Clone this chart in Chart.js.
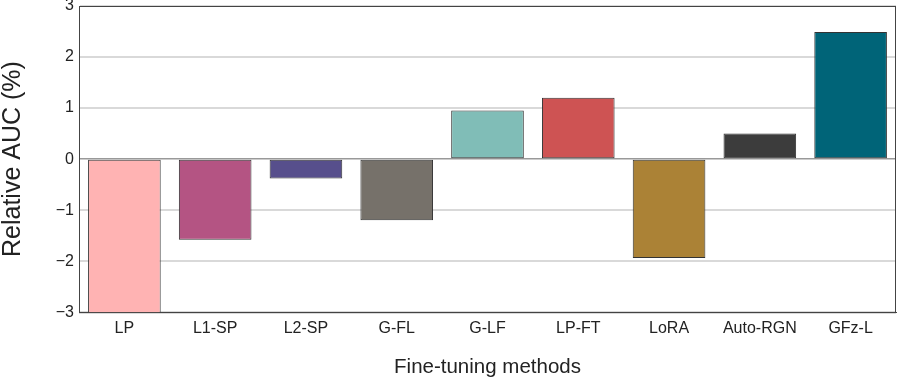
<!DOCTYPE html>
<html>
<head>
<meta charset="utf-8">
<script src="https://cdn.jsdelivr.net/npm/chart.js@4"></script>
<style>
  html, body { margin: 0; padding: 0; background: #fff; }
  #box { width: 897px; height: 377px; }
</style>
</head>
<body>
<div id="box"><canvas id="auc-chart"></canvas></div>
<script>
const methods = ['LP', 'L1-SP', 'L2-SP', 'G-FL', 'G-LF', 'LP-FT', 'LoRA', 'Auto-RGN', 'GFz-L']
const relativeAuc = [-3.3, -1.58, -0.38, -1.2, 0.95, 1.2, -1.94, 0.5, 2.49]
const barColors = ['#FFB3B3', '#B45483', '#574F8C', '#76716A', '#80BDB7', '#CE5353', '#AB8236', '#3C3C3C', '#006478']
const yTicks = [-3, -2, -1, 0, 1, 2, 3]

// frame round the plot area
const framePlugin = {
  id: 'frame',
  afterDatasetsDraw(chart) {
    const a = chart.chartArea
    const ctx = chart.ctx
    ctx.save()
    ctx.strokeStyle = '#444'
    ctx.lineWidth = 1
    ctx.strokeRect(a.left + 0.5, a.top + 0.5, a.right - a.left - 1, a.bottom - a.top)
    ctx.restore()
  }
}

const config = {
  type: 'bar',
  data: {
    labels: methods,
    datasets: [{
      data: relativeAuc,
      backgroundColor: barColors,
      borderColor: '#333',
      borderWidth: 1,
      borderSkipped: false,
      categoryPercentage: 1,
      barPercentage: 0.8,
      clip: 0
    }]
  },
  options: {
    responsive: true,
    maintainAspectRatio: false,
    animation: false,
    layout: { padding: { top: 6, right: 1, left: 0, bottom: -3 } },
    plugins: { legend: { display: false }, tooltip: { enabled: false } },
    scales: {
      x: {
        grid: { display: false },
        border: { color: '#444' },
        ticks: { color: '#222', font: { family: 'Liberation Sans', size: 16 }, padding: -1 },
        title: {
          display: true, text: 'Fine-tuning methods', color: '#222',
          font: { family: 'Liberation Sans', size: 20.5 }, padding: { top: 18, bottom: 0 }
        }
      },
      y: {
        min: -3, max: 3,
        afterBuildTicks(axis) { axis.ticks = yTicks.map(v => ({ value: v })) },
        afterFit(axis) { axis.paddingTop = 0; axis.paddingBottom = 0; axis.width = 79 },
        grid: {
          drawTicks: false,
          color: c => c.tick.value === 0 ? '#999' : '#d9d9d9',
          lineWidth: c => c.tick.value === 0 ? 1.5 : 2
        },
        border: { color: '#444' },
        ticks: {
          color: '#222', font: { family: 'Liberation Sans', size: 16 }, padding: 5,
          callback: v => String(v).replace('-', '\u2212')
        },
        title: {
          display: true, text: 'Relative AUC (%)', color: '#222',
          font: { family: 'Liberation Sans', size: 25 }, padding: { top: -2, bottom: 0 }
        }
      }
    }
  },
  plugins: [framePlugin]
}

const aucChart = new Chart(document.getElementById('auc-chart'), config)
</script>
</body>
</html>
